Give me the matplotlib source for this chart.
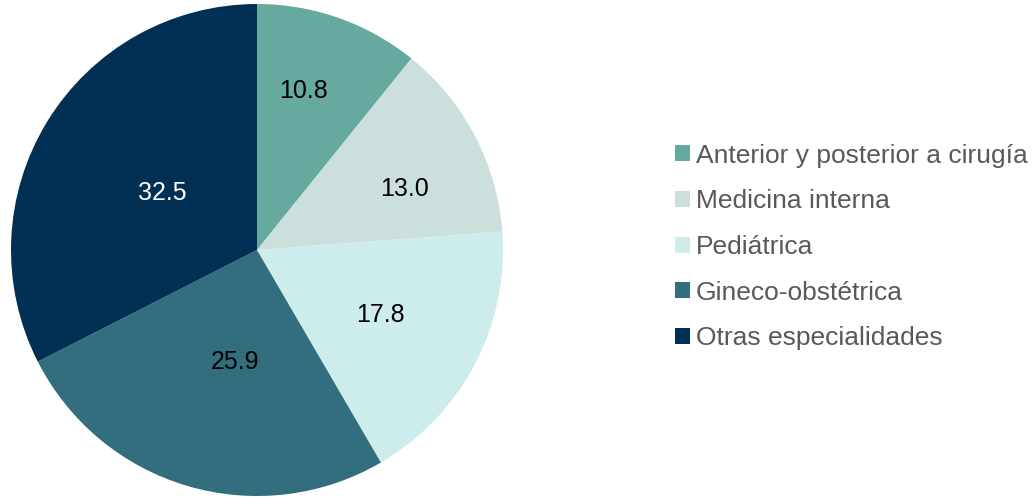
import numpy as np
import matplotlib.pyplot as plt
from matplotlib.patches import Patch

plt.rcParams['font.family'] = ['Liberation Sans', 'DejaVu Sans']

categories = ['Anterior y posterior a cirugía', 'Medicina interna', 'Pediátrica',
              'Gineco-obstétrica', 'Otras especialidades']
values = [10.8, 13.0, 17.8, 25.9, 32.5]
colors = ['#66A99E', '#CBE0DD', '#CDEDEC', '#336E7E', '#023055']
label_colors = ['black', 'black', 'black', 'black', 'white']
# label placement: fraction of radius, angular shift (deg) from wedge middle
label_dist = [0.675, 0.65, 0.565, 0.465, 0.45]
label_shift = [3.0, -5.3, 0.0, 5.4, 0.3]

W, H = 1036, 497
fig = plt.figure(figsize=(W / 100, H / 100), dpi=100)
r = 246
cx, cy = 257, 250
ax = fig.add_axes([(cx - r) / W, (H - cy - r) / H, 2 * r / W, 2 * r / H])

wedges, _ = ax.pie(values, colors=colors, startangle=90, counterclock=False,
                   wedgeprops=dict(linewidth=0))
ax.set_xlim(-1, 1)
ax.set_ylim(-1, 1)
ax.set_aspect('equal')

for w, v, d, s, c in zip(wedges, values, label_dist, label_shift, label_colors):
    ang = np.deg2rad((w.theta1 + w.theta2) / 2 + s)
    ax.text(d * np.cos(ang), d * np.sin(ang), f'{v:.1f}', ha='center', va='center',
            fontsize=18, color=c)

handles = [Patch(facecolor=c, edgecolor='none') for c in colors]
fig.legend(handles, categories, loc='center left',
           bbox_to_anchor=(675 / W, 1 - 247 / H), frameon=False,
           fontsize=19, labelcolor='#595959', handlelength=0.55, handleheight=0.55,
           handletextpad=0.25, labelspacing=0.82, borderpad=0, borderaxespad=0)

fig.savefig('out.png', dpi=100)
